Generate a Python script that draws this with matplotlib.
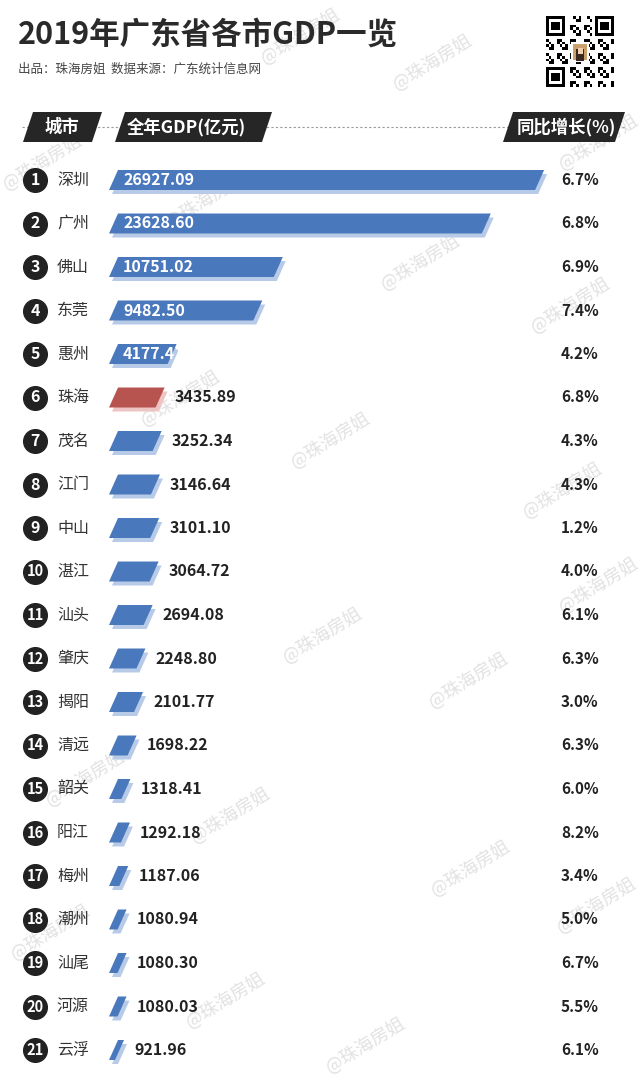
import matplotlib
matplotlib.use('Agg')
import matplotlib.pyplot as plt
import matplotlib.transforms as mtransforms
from matplotlib.patches import Polygon
import numpy as np

plt.rcParams['font.family'] = ['Noto Sans CJK SC', 'DejaVu Sans']

# data
cities = ['深圳', '广州', '佛山', '东莞', '惠州', '珠海', '茂名', '江门', '中山', '湛江', '汕头',
          '肇庆', '揭阳', '清远', '韶关', '阳江', '梅州', '潮州', '汕尾', '河源', '云浮']
gdp = [26927.09, 23628.60, 10751.02, 9482.50, 4177.41, 3435.89, 3252.34, 3146.64, 3101.10,
       3064.72, 2694.08, 2248.80, 2101.77, 1698.22, 1318.41, 1292.18, 1187.06, 1080.94,
       1080.30, 1080.03, 921.96]
growth = [6.7, 6.8, 6.9, 7.4, 4.2, 6.8, 4.3, 4.3, 1.2, 4.0, 6.1, 6.3, 3.0, 6.3, 6.0, 8.2,
          3.4, 5.0, 6.7, 5.5, 6.1]
highlight = '珠海'

title = '2019年广东省各市GDP一览'
subtitle = '出品：珠海房姐  数据来源：广东统计信息网'
headers = ['城市', '全年GDP(亿元)', '同比增长(%)']
watermark = '@珠海房姐'

W, H = 640, 1082
fig = plt.figure(figsize=(W / 100, H / 100), dpi=100)
fig.patch.set_facecolor('white')

# overlay axes in pixel units for decorations
ax = fig.add_axes([0, 0, 1, 1])
ax.set_xlim(0, W)
ax.set_ylim(H, 0)
ax.axis('off')

# watermarks
wm_pos = [(432, 62), (300, 36), (598, 142), (42, 162), (205, 200), (420, 262), (570, 305),
          (180, 398), (330, 440), (562, 490), (598, 585), (322, 635), (468, 680),
          (85, 778), (230, 815), (596, 905), (50, 932), (225, 1000), (365, 1045),
          (470, 868)]
for x, y in wm_pos:
    ax.text(x, y, watermark, color='#e2e2e2', fontsize=13, rotation=32,
            ha='center', va='center', zorder=0)

ax.text(18, 35, title, fontsize=22, fontweight='bold', color='#2a2a2a',
        ha='left', va='center', zorder=3)
ax.text(18, 69, subtitle, fontsize=9, color='#444444', ha='left', va='center', zorder=3)

# QR code-like badge
n = 25
qr = np.zeros((n, n))
ii, jj = np.meshgrid(np.arange(n), np.arange(n), indexing='ij')
qr[((ii * 7 + jj * 13 + ii * jj) % 5) < 2] = 1
for r0, c0 in [(0, 0), (0, n - 7), (n - 7, 0)]:
    qr[r0:r0 + 7, c0:c0 + 7] = 1
    qr[r0 + 1:r0 + 6, c0 + 1:c0 + 6] = 0
    qr[r0 + 2:r0 + 5, c0 + 2:c0 + 5] = 1
    if r0 + 7 < n:
        qr[r0 + 7, max(c0 - 1, 0):c0 + 8] = 0
    if c0 + 7 < n:
        qr[max(r0 - 1, 0):r0 + 8, c0 + 7] = 0
    if c0 > 0:
        qr[r0:r0 + 8, c0 - 1] = 0
    if r0 > 0:
        qr[r0 - 1, c0:c0 + 8] = 0
ax.imshow(1 - qr, cmap='gray', extent=(546, 614, 87, 16), interpolation='nearest',
          aspect='auto', zorder=2)
ax.add_patch(plt.Rectangle((572, 43), 16, 18, facecolor='#c9a06a', edgecolor='white',
                           lw=1.5, zorder=3))
ax.add_patch(plt.Rectangle((576, 49), 8, 12, facecolor='#3a2a22', zorder=4))
ax.add_patch(plt.Rectangle((577.5, 48), 5, 6, facecolor='#f0d0b0', zorder=5))

# header row
ax.plot([22, 625], [127, 127], color='#9a9a9a', lw=0.8, ls=(0, (2, 2)), zorder=1)
tabs = [(23, 92), (115, 262), (503, 615)]
for (xl, xr), lab in zip(tabs, headers):
    ax.add_patch(Polygon([(xl, 142), (xr, 142), (xr + 10, 112), (xl + 10, 112)],
                         closed=True, facecolor='#262626', edgecolor='none', zorder=2))
xs_lab = [62, 127, 517]
has = ['center', 'left', 'left']
for x, lab, ha in zip(xs_lab, headers, has):
    ax.text(x, 127, lab, color='white', fontsize=12.5, fontweight='bold',
            ha=ha, va='center', zorder=3)

# bars axes: x in GDP units, y in row index
row0, step = 180, 43.5
n_rows = len(cities)
top_px = row0 - step / 2
bot_px = row0 + (n_rows - 1) * step + step / 2
left_px = 109
bx = fig.add_axes([left_px / W, 1 - bot_px / H, (W - left_px) / W, (bot_px - top_px) / H])
bx.patch.set_alpha(0)
bx.axis('off')
upp = 61.9          # GDP units per pixel
base = 550
bx.set_xlim(base, base + (W - left_px) * upp)
bx.set_ylim(n_rows - 0.5, -0.5)

bh = 20 / step
shear = 9 * upp
sdx, sdy = 3 * upp, 4 / step
for i, (c, v) in enumerate(zip(cities, gdp)):
    if c == highlight:
        col, scol = '#b85450', '#eec4c4'
    else:
        col, scol = '#4a78bd', '#b7cbe8'
    pts = [(base, i + bh / 2), (v, i + bh / 2), (v + shear, i - bh / 2),
           (base + shear, i - bh / 2)]
    spts = [(x + sdx, y + sdy) for x, y in pts]
    bx.add_patch(Polygon(spts, closed=True, facecolor=scol, edgecolor='none', zorder=1))
    bx.add_patch(Polygon(pts, closed=True, facecolor=col, edgecolor='none', zorder=2))
    if i < 5:
        bx.text(base + 14 * upp, i, f'{v:.2f}', color='white', fontsize=11.5,
                fontweight='bold', ha='left', va='center', zorder=3)
    else:
        bx.text(v + shear + 10 * upp, i, f'{v:.2f}', color='#222222', fontsize=11.5,
                fontweight='bold', ha='left', va='center', zorder=3)

# rank circles, city names, growth column
tr = mtransforms.blended_transform_factory(ax.transData, bx.transData)
rows = np.arange(n_rows)
bx.scatter(np.full(n_rows, 35), rows, s=290, color='#222222', transform=tr,
           clip_on=False, zorder=3)
for i, (c, g) in enumerate(zip(cities, growth)):
    rk = str(i + 1)
    bx.text(35, i, rk, color='white', fontsize=11.5 if len(rk) == 1 else 10.5,
            fontweight='bold', ha='center', va='center', transform=tr, zorder=4)
    bx.text(57, i, c, color='#333333', fontsize=11.5, ha='left', va='center', transform=tr)
    bx.text(561, i, f'{g:.1f}%', color='#222222', fontsize=11, fontweight='bold',
            ha='left', va='center', transform=tr)

fig.savefig('out.png', dpi=100, facecolor='white')
